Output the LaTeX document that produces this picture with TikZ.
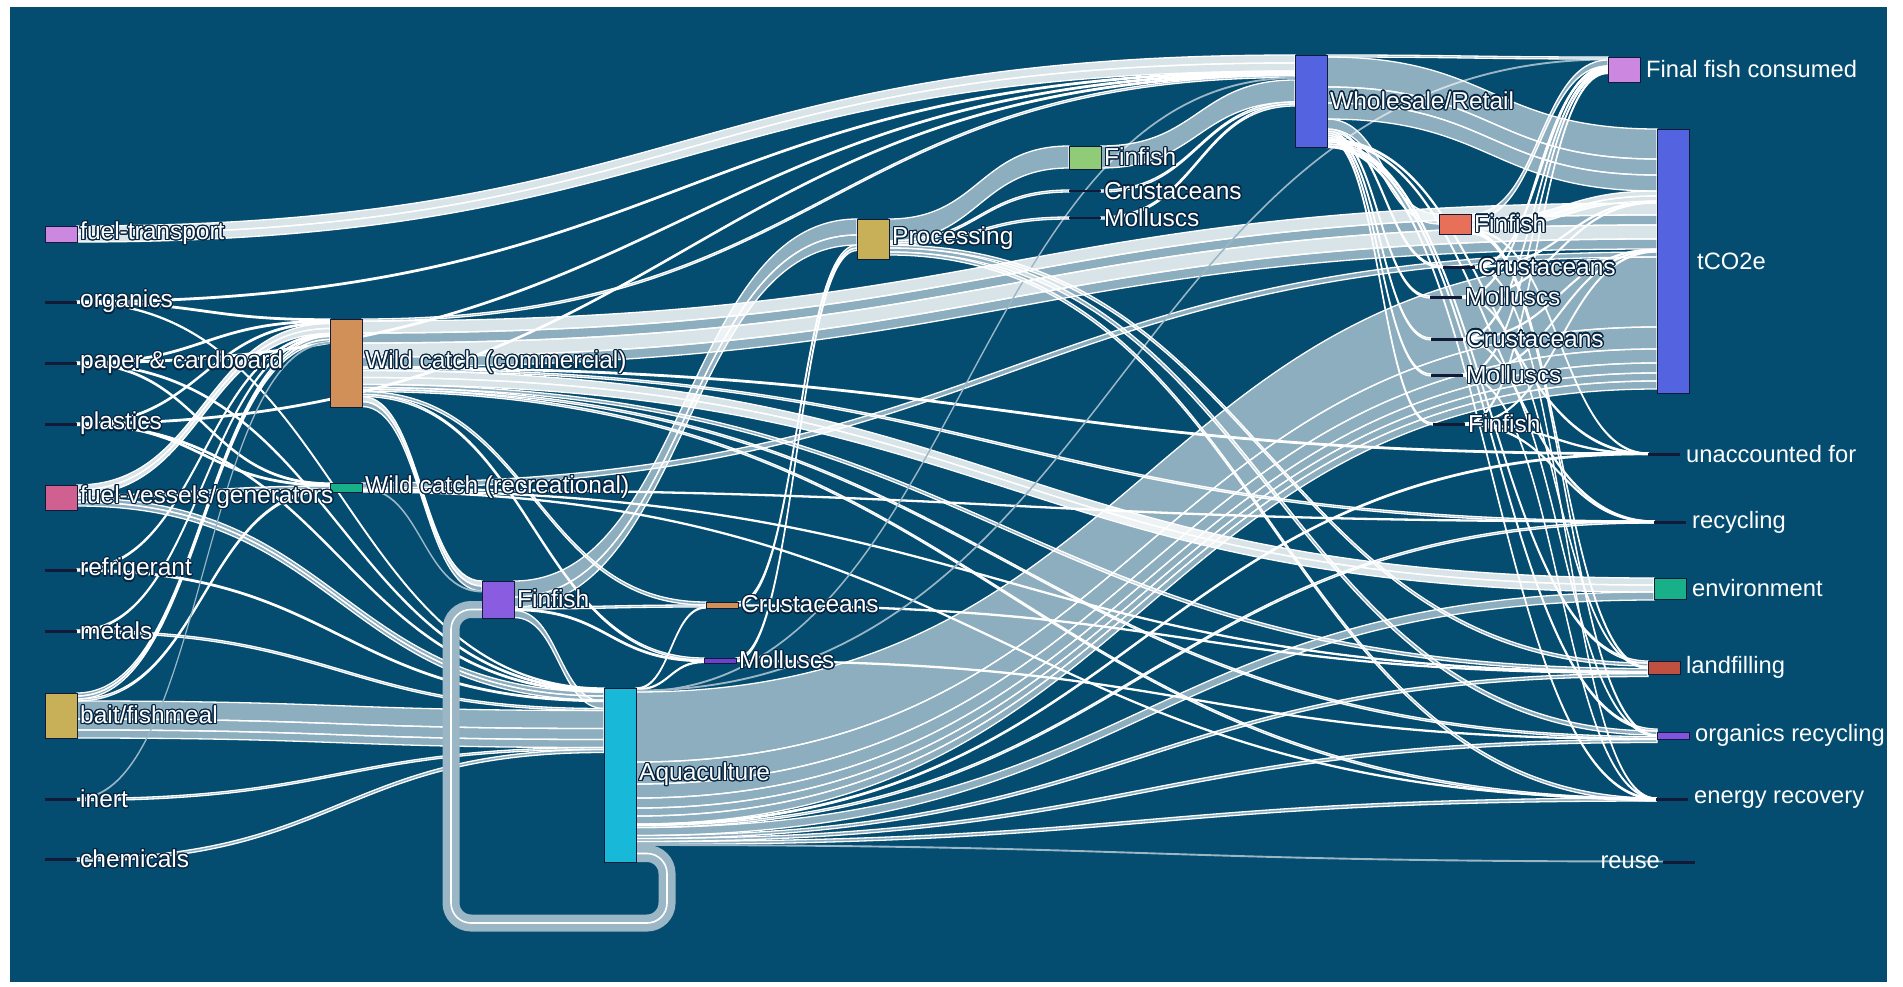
\documentclass[tikz,border=0pt]{standalone}
\usepackage{fontspec}
\setmainfont{Liberation Sans}
\usepackage{contour}
\contourlength{1.2pt}
\usetikzlibrary{calc,positioning}

\definecolor{seablue}{RGB}{4,76,112}
\definecolor{bandgray}{RGB}{155,183,198}
\definecolor{edgenavy}{RGB}{18,26,56}
\definecolor{halonavy}{RGB}{6,36,64}
\definecolor{orchid}{RGB}{204,136,224}
\definecolor{rosepink}{RGB}{208,96,144}
\definecolor{mustard}{RGB}{200,176,88}
\definecolor{tanbrown}{RGB}{208,144,88}
\definecolor{jade}{RGB}{24,176,136}
\definecolor{purplefin}{RGB}{138,92,224}
\definecolor{cyanblue}{RGB}{24,184,216}
\definecolor{indigomol}{RGB}{108,64,208}
\definecolor{leaf}{RGB}{144,204,120}
\definecolor{royal}{RGB}{84,100,224}
\definecolor{salmonfin}{RGB}{232,112,88}
\definecolor{brick}{RGB}{192,80,64}
\definecolor{lilac}{RGB}{128,84,224}

\pgfdeclarelayer{back}
\pgfdeclarelayer{links}
\pgfsetlayers{back,links,main}

\tikzset{
    % Nodes
    sankey node/.style={draw=edgenavy,line width=.8pt,inner sep=0pt,outer sep=0pt,anchor=north west,minimum width=32pt},
    sink line/.style={fill=edgenavy,inner sep=0pt,outer sep=0pt,anchor=north west,minimum width=32pt,minimum height=2.5pt},
    %
    % Links
    link band/.style={fill=white,fill opacity=.55,draw=white,line width=1.3pt},
    bright link/.style={fill opacity=.85},
    faint link/.style={draw=bandgray,line width=.9pt,fill opacity=0},
    loop band/.style={draw=white,line width=1.6pt,rounded corners=20pt,preaction={draw=bandgray,line width=17pt}},
    %
    % Labels
    lab/.style={text=white,inner sep=0pt,font=\fontsize{24.5}{28}\selectfont},
    lab plain/.style={text=white,inner sep=0pt,font=\fontsize{23.7}{28}\selectfont}
}

\newcommand{\halo}[1]{\contour{halonavy}{#1}}
% band from source node (offset from top) to target node (offset from top), width
\newcommand{\flow}[6][]{%
    \path (#2.north east) ++(0,#3) coordinate (s1) ++(0,#6) coordinate (s2)
          (#4.north west) ++(0,#5) coordinate (t1) ++(0,#6) coordinate (t2)
          ($(s1)!.5!(t1)$) coordinate (m);
    \path[link band,#1] (s1) .. controls (m |- s1) and (m |- t1) .. (t1)
          -- (t2) .. controls (m |- t2) and (m |- s2) .. (s2) -- cycle;
}

\begin{document}
\begin{tikzpicture}[x=1pt,y=-1pt]
    \useasboundingbox (0,0) rectangle (1903,987);
    \begin{pgfonlayer}{back}
        \fill[seablue] (10,7) rectangle (1887,982);
    \end{pgfonlayer}

    % inputs
    \node[sankey node,fill=orchid,minimum height=16pt] (ftrans) at (45,226) {};
    \node[sankey node,fill=rosepink,minimum height=25pt] (fvessel) at (45,485) {};
    \node[sankey node,fill=mustard,minimum height=45pt] (bait) at (45,693) {};
    \foreach \n/\y in {organics/301,paper/362,plastics/423,refrig/569,metals/630,inert/798,chem/858}
        \node[sink line] (\n) at (45,\y) {};

    % production
    \node[sankey node,fill=tanbrown,minimum height=88pt] (wcc) at (330,319) {};
    \node[sankey node,fill=jade,minimum height=9pt] (wcr) at (330,483) {};
    \node[sankey node,fill=purplefin,minimum height=37pt] (finA) at (482,581) {};
    \node[sankey node,fill=cyanblue,minimum height=174pt] (aqua) at (604,688) {};
    \node[sankey node,fill=tanbrown,minimum height=6pt] (crusA) at (706,602) {};
    \node[sankey node,fill=indigomol,minimum height=5pt] (mollA) at (704,658) {};

    % processing and trade
    \node[sankey node,fill=mustard,minimum height=40pt] (proc) at (857,219) {};
    \node[sankey node,fill=leaf,minimum height=23pt] (finB) at (1069,146) {};
    \node[sink line] (crusB) at (1069,190) {};
    \node[sink line] (mollB) at (1069,217) {};
    \node[sankey node,fill=royal,minimum height=92pt] (whole) at (1295,55) {};
    \node[sankey node,fill=salmonfin,minimum height=20pt] (finC) at (1439,214) {};
    \foreach \n/\x/\y in {crusC/1443/266,mollC/1430/296,crusD/1431/338,mollD/1431/374,finD/1433/423}
        \node[sink line] (\n) at (\x,\y) {};

    % outputs
    \node[sankey node,fill=orchid,minimum height=25pt] (ffc) at (1608,57) {};
    \node[sankey node,fill=royal,minimum height=264pt] (tco2) at (1657,129) {};
    \node[sankey node,fill=jade,minimum height=21pt] (env) at (1654,578) {};
    \node[sankey node,fill=brick,minimum height=13pt] (landf) at (1648,661) {};
    \node[sankey node,fill=lilac,minimum height=7pt] (orgrec) at (1657,732) {};
    \foreach \n/\x/\y in {unacc/1648/453,recyc/1654/521,energy/1656/798,reuse/1663/861}
        \node[sink line] (\n) at (\x,\y) {};

    \begin{pgfonlayer}{links}
        % inputs to catch, aquaculture and retail
        \flow[bright link]{ftrans}{0}{whole}{0}{8}
        \flow[bright link]{ftrans}{8}{whole}{8}{8}
        \flow{organics}{0}{whole}{16}{1.5}
        \flow{organics}{0.5}{wcc}{0}{1.5}
        \flow{organics}{1}{aqua}{0}{1}
        \flow{paper}{0}{whole}{17.5}{1.5}
        \flow{paper}{0.5}{wcc}{1.5}{1.5}
        \flow{paper}{0.5}{wcr}{0}{1.5}
        \flow{paper}{1}{aqua}{1}{1.5}
        \flow{plastics}{0}{whole}{19}{1.5}
        \flow{plastics}{0.5}{wcc}{3}{1.5}
        \flow{plastics}{0.5}{wcr}{1.5}{1.5}
        \flow{plastics}{1}{aqua}{2.5}{1.5}
        \flow[bright link]{fvessel}{0}{wcc}{4.5}{5}
        \flow[bright link]{fvessel}{5}{wcc}{9.5}{5}
        \flow{fvessel}{10}{wcr}{3}{3}
        \flow{fvessel}{13}{aqua}{4}{4}
        \flow{fvessel}{17}{aqua}{8}{4}
        \flow{refrig}{0}{wcc}{14.5}{1.5}
        \flow{refrig}{0.5}{aqua}{12}{1.5}
        \flow{metals}{0}{wcc}{16}{1.5}
        \flow{metals}{0.5}{aqua}{20.5}{2}
        \flow{bait}{0}{wcc}{17.5}{3}
        \flow{bait}{3}{wcc}{20.5}{3}
        \flow{bait}{6}{wcr}{6}{2}
        \flow{bait}{8}{aqua}{22.5}{18}
        \flow{bait}{26}{aqua}{40.5}{11}
        \flow{bait}{37}{aqua}{51.5}{8}
        \flow[faint link]{inert}{0}{wcc}{23.5}{1}
        \flow{inert}{0.5}{aqua}{59.5}{2}
        \flow{chem}{0}{aqua}{61.5}{3}

        % wild catch
        \flow{wcc}{0}{whole}{20.5}{2}
        \flow[bright link]{wcc}{2}{tco2}{74}{12}
        \flow{wcc}{14}{tco2}{86}{10}
        \flow[bright link]{wcc}{24}{tco2}{96}{14}
        \flow{wcc}{38}{tco2}{110}{10}
        \flow{wcc}{48}{unacc}{0}{1.5}
        \flow{wcc}{49.5}{recyc}{0}{2}
        \flow[bright link]{wcc}{51.5}{env}{0}{7}
        \flow[bright link]{wcc}{58.5}{env}{7}{7}
        \flow{wcc}{65.5}{landf}{7.5}{3}
        \flow{wcc}{68.5}{orgrec}{4.5}{2}
        \flow{wcc}{70.5}{energy}{0}{2}
        \flow{wcc}{72.5}{crusA}{0}{3}
        \flow{wcc}{75.5}{mollA}{0}{2}
        \flow[bright link]{wcc}{77.5}{finA}{0}{5}
        \flow{wcc}{82.5}{finA}{5}{5}
        \flow{wcr}{0}{tco2}{123}{5}
        \flow[faint link]{wcr}{5}{finA}{10}{1}
        \flow{wcr}{6}{recyc}{0}{1}
        \flow{wcr}{7}{landf}{10.5}{1}
        \flow{wcr}{8}{energy}{0}{1}

        % finfish, crustaceans, molluscs
        \flow{finA}{0}{proc}{0}{16}
        \flow{finA}{16}{proc}{16}{10}
        \flow{finA}{26}{crusA}{3}{2}
        \flow{finA}{28}{mollA}{2}{1.5}
        \flow{finA}{29.5}{aqua}{13.5}{7}
        \flow{crusA}{0}{proc}{26}{3}
        \flow{crusA}{3}{landf}{11.5}{1}
        \flow{mollA}{0}{proc}{29}{2.5}
        \flow{mollA}{2.5}{orgrec}{6.5}{1}

        % aquaculture
        \flow{aqua}{0}{crusA}{5}{1}
        \flow{aqua}{1}{mollA}{3.5}{1}
        \flow[faint link]{aqua}{2}{ffc}{2}{1}
        \flow[faint link]{aqua}{3}{whole}{22.5}{1}
        \flow{aqua}{4}{tco2}{128}{70}
        \flow{aqua}{74}{tco2}{198}{22}
        \flow{aqua}{96}{tco2}{220}{14}
        \flow{aqua}{110}{tco2}{234}{10}
        \flow{aqua}{120}{tco2}{244}{8}
        \flow{aqua}{128}{tco2}{252}{8}
        \flow{aqua}{136}{unacc}{0}{1.5}
        \flow{aqua}{137.5}{recyc}{0}{2}
        \flow{aqua}{139.5}{env}{14}{8}
        \flow{aqua}{147.5}{landf}{12.5}{3}
        \flow{aqua}{150.5}{orgrec}{7.5}{3}
        \flow{aqua}{153.5}{energy}{0}{3}
        \flow[faint link]{aqua}{156.5}{reuse}{0}{1}
        \coordinate (loop out) at ($(aqua.south east)+(0,-8.5)$);
        \coordinate (loop in) at ($(finA.south west)+(0,-8.5)$);
        \draw[loop band] (loop out) -| (667,923) -| (451,609.5) -- (loop in);

        % processing
        \flow{proc}{0}{finB}{0}{22}
        \flow{proc}{22}{crusB}{0}{2}
        \flow{proc}{24}{mollB}{0}{2}
        \flow{proc}{26}{landf}{2}{3}
        \flow{proc}{29}{orgrec}{-1}{4}
        \flow{proc}{33}{energy}{0}{3}
        \flow{finB}{0}{whole}{25}{22}
        \flow{crusB}{0}{whole}{47}{2}
        \flow{mollB}{0}{whole}{49}{2}

        % wholesale and retail
        \flow{whole}{0}{ffc}{0}{2}
        \flow{whole}{2}{tco2}{0}{30}
        \flow{whole}{32}{tco2}{30}{16}
        \flow{whole}{48}{tco2}{46}{16}
        \flow{whole}{64}{finC}{0}{10}
        \flow{whole}{74}{crusC}{0}{2}
        \flow{whole}{76}{mollC}{0}{2}
        \flow{whole}{78}{crusD}{0}{2}
        \flow{whole}{80}{mollD}{0}{2}
        \flow{whole}{82}{finD}{0}{2}
        \flow{whole}{84}{unacc}{0}{1.5}
        \flow{whole}{85.5}{recyc}{0}{1.5}
        \flow{whole}{87}{landf}{0}{2}
        \flow{whole}{89}{orgrec}{-3}{2}
        \flow{whole}{91}{energy}{0}{1.5}

        % consumer waste
        \flow{finC}{0}{ffc}{3}{6}
        \flow[bright link]{finC}{6}{tco2}{62}{5}
        \flow[bright link]{finC}{11}{tco2}{67}{5}
        \flow{finC}{16}{unacc}{0}{1}
        \flow{finC}{17}{landf}{6}{1.5}
        \flow{finC}{18.5}{orgrec}{3}{1.5}
        \foreach \n/\d/\e in {crusC/9/72,mollC/10.5/73,crusD/12/120,mollD/13.5/121,finD/15/122}{
            \flow{\n}{0}{ffc}{\d}{1.5}
            \flow{\n}{0.5}{tco2}{\e}{1}
        }
        \flow{crusC}{1}{energy}{0}{1}
        \flow{mollC}{1}{landf}{6}{1}
        \flow{crusD}{1}{orgrec}{3}{1}
        \flow{mollD}{1}{energy}{0}{1}
        \flow{finD}{1}{unacc}{0}{1}
        \flow{finD}{1}{recyc}{0}{1}
    \end{pgfonlayer}

    % labels
    \foreach \n/\t in {ftrans/fuel-transport,organics/organics,paper/paper \& cardboard,plastics/plastics,
                       fvessel/{fuel-vessels/generators},refrig/refrigerant,metals/metals,bait/{bait/fishmeal},
                       inert/inert,chem/chemicals,wcc/Wild catch (commercial),wcr/Wild catch (recreational),
                       finA/Finfish,aqua/Aquaculture,crusA/Crustaceans,mollA/Molluscs,proc/Processing,
                       finB/Finfish,crusB/Crustaceans,mollB/Molluscs,whole/{Wholesale/Retail},
                       finC/Finfish,crusC/Crustaceans,mollC/Molluscs,crusD/Crustaceans,mollD/Molluscs,finD/Finfish}
        \node[lab,right=3pt of \n] (\n lab) {\halo{\t}};
    \foreach \n/\t in {ffc/Final fish consumed,unacc/unaccounted for,recyc/recycling,env/environment,
                       landf/landfilling,orgrec/organics recycling,energy/energy recovery}
        \node[lab plain,right=6pt of \n] (\n lab) {\t};
    \node[lab plain,right=8pt of tco2] (tco2 lab) {tCO2e};
    \node[lab plain,left=3pt of reuse] (reuse lab) {reuse};

    % page margin over long labels
    \fill[white] (1887,0) rectangle (1903,987);
\end{tikzpicture}
\end{document}
